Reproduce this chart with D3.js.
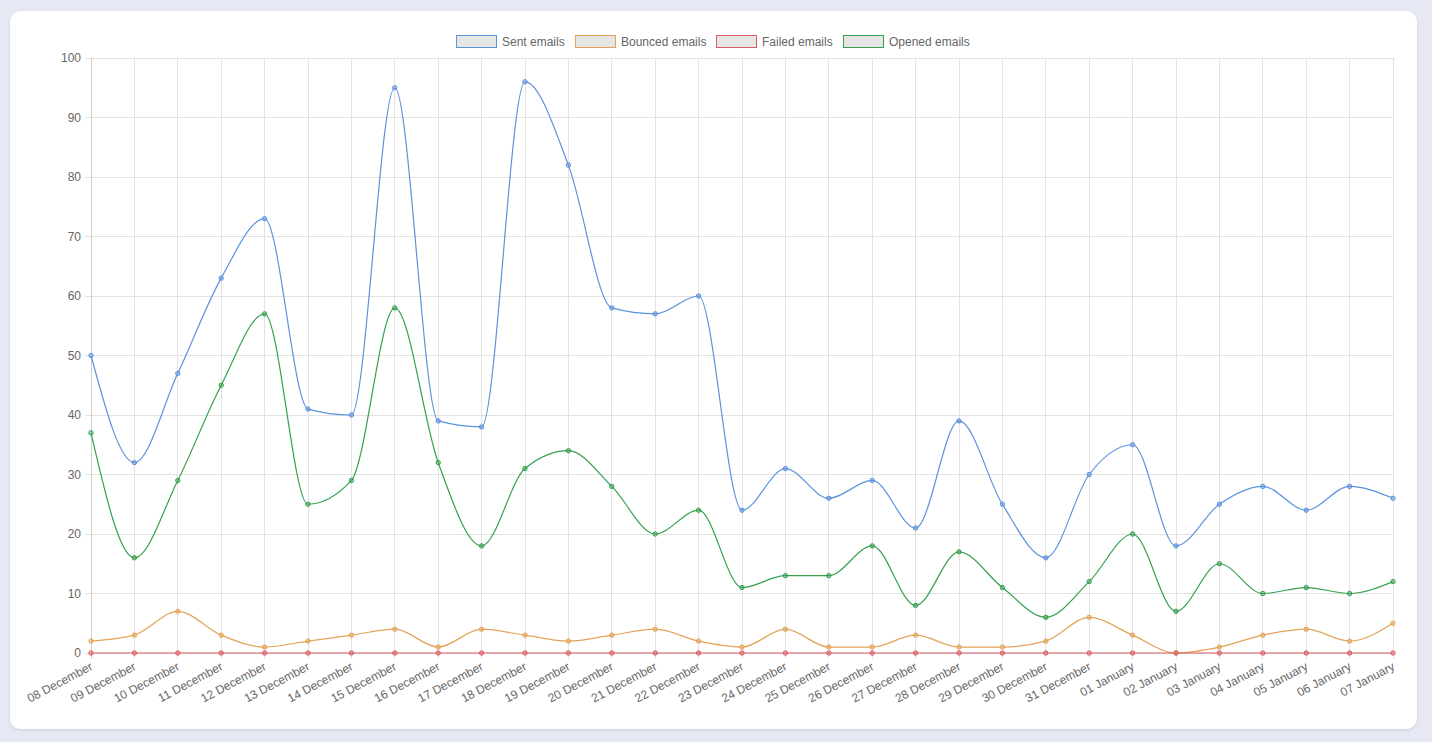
<!DOCTYPE html>
<html>
<head>
<meta charset="utf-8">
<script src="https://cdn.jsdelivr.net/npm/d3@7/dist/d3.min.js"></script>
<style>
  html, body { margin: 0; padding: 0; background: #e6e8f4; }
  body { width: 1432px; height: 742px; overflow: hidden; font-family: "Liberation Sans", Arial, Helvetica, sans-serif; }
</style>
</head>
<body>
<svg id="chart" width="1432" height="742"></svg>
<script>
const categories = ["08 December","09 December","10 December","11 December","12 December","13 December","14 December","15 December","16 December","17 December","18 December","19 December","20 December","21 December","22 December","23 December","24 December","25 December","26 December","27 December","28 December","29 December","30 December","31 December","01 January","02 January","03 January","04 January","05 January","06 January","07 January"];
const sentEmails    = [50,32,47,63,73,41,40,95,39,38,96,82,58,57,60,24,31,26,29,21,39,25,16,30,35,18,25,28,24,28,26];
const bouncedEmails = [2,3,7,3,1,2,3,4,1,4,3,2,3,4,2,1,4,1,1,3,1,1,2,6,3,0,1,3,4,2,5];
const failedEmails  = [0,0,0,0,0,0,0,0,0,0,0,0,0,0,0,0,0,0,0,0,0,0,0,0,0,0,0,0,0,0,0];
const openedEmails  = [37,16,29,45,57,25,29,58,32,18,31,34,28,20,24,11,13,13,18,8,17,11,6,12,20,7,15,10,11,10,12];
const yTicks = [0,10,20,30,40,50,60,70,80,90,100];
const seriesNames = ["Sent emails","Bounced emails","Failed emails","Opened emails"];
const seriesColors = ["#5b93dc","#e3a356","#dc5a64","#35a04e"];

(function () {
const series = [sentEmails, bouncedEmails, failedEmails, openedEmails].map((v,i)=>({name: seriesNames[i], color: seriesColors[i], values: v}));

const svg = d3.select("#chart");
const defs = svg.append("defs");
const f = defs.append("filter").attr("id","sh").attr("x","-5%").attr("y","-5%").attr("width","110%").attr("height","110%");
f.append("feDropShadow").attr("dx",0).attr("dy",1).attr("stdDeviation",1.5).attr("flood-color","#000").attr("flood-opacity",0.12);

svg.append("rect").attr("x",10).attr("y",11).attr("width",1407).attr("height",718).attr("rx",11).attr("fill","#fff").attr("filter","url(#sh)");

const pL = 91, pR = 1393, pT = 58, pB = 653;
const x = d3.scalePoint().domain(categories).range([pL, pR]);
const y = d3.scaleLinear().domain([0,100]).range([pB, pT]);

const g = svg.append("g");

g.append("g").selectAll("line").data(yTicks).join("line")
  .attr("x1", pL - 6).attr("x2", pR).attr("y1", d=>y(d)).attr("y2", d=>y(d))
  .attr("stroke", "#e2e2e2").attr("stroke-width", 1).attr("shape-rendering","crispEdges");
g.append("g").selectAll("line").data(categories).join("line")
  .attr("x1", d=>x(d)).attr("x2", d=>x(d)).attr("y1", pT).attr("y2", pB + 6)
  .attr("stroke", (d,i)=> i===0 ? "#cfcfcf" : "#e2e2e2").attr("stroke-width", 1).attr("shape-rendering","crispEdges");

const yAxis = d3.axisLeft(y).tickValues(yTicks).tickSize(0).tickPadding(10);
const ya = g.append("g").attr("transform",`translate(${pL},0)`).call(yAxis);
ya.select(".domain").remove();
ya.selectAll("text").attr("fill","#666").attr("font-size","12px").attr("font-family","Liberation Sans, Arial, sans-serif");

const xAxis = d3.axisBottom(x).tickSize(0).tickPadding(0);
const xa = g.append("g").attr("transform",`translate(0,${pB})`).call(xAxis);
xa.select(".domain").remove();
xa.selectAll("text")
  .attr("fill","#666").attr("font-size","12px").attr("font-family","Liberation Sans, Arial, sans-serif")
  .attr("text-anchor","end").attr("dy",null).attr("y",0)
  .attr("transform","translate(2,16) rotate(-28)");

const line = d3.line().x((d,i)=>x(categories[i])).y(d=>y(d)).curve(d3.curveMonotoneX);
series.forEach(s => {
  g.append("path").attr("d", line(s.values)).attr("fill","none").attr("stroke", s.color).attr("stroke-width",1.2);
});
series.forEach(s => {
  g.append("g").selectAll("circle").data(s.values).join("circle")
    .attr("cx", (d,i)=>x(categories[i])).attr("cy", d=>y(d)).attr("r", 2.2)
    .attr("fill", s.color).attr("fill-opacity", 0.45).attr("stroke", s.color).attr("stroke-width", 1);
});

const legend = svg.append("g").attr("font-family","Liberation Sans, Arial, sans-serif").attr("font-size","12px");
const tmp = legend.append("text").attr("opacity",0);
const widths = seriesNames.map(n => { tmp.text(n); return tmp.node().getComputedTextLength(); });
tmp.remove();
const boxW = 40, gap = 6, itemGap = 10;
const itemW = widths.map(w => boxW + gap + w);
const total = d3.sum(itemW) + itemGap*(itemW.length-1);
let cx = 713 - total/2;
series.forEach((s,i) => {
  const it = legend.append("g").attr("transform",`translate(${Math.round(cx)},0)`);
  it.append("rect").attr("x",0.5).attr("y",35.5).attr("width",boxW).attr("height",12)
    .attr("fill","#e6e6e6").attr("stroke", s.color).attr("stroke-width",1);
  it.append("text").attr("x", boxW + gap).attr("y", 46).attr("fill","#666").text(s.name);
  cx += itemW[i] + itemGap;
});
})();
</script>
</body>
</html>
